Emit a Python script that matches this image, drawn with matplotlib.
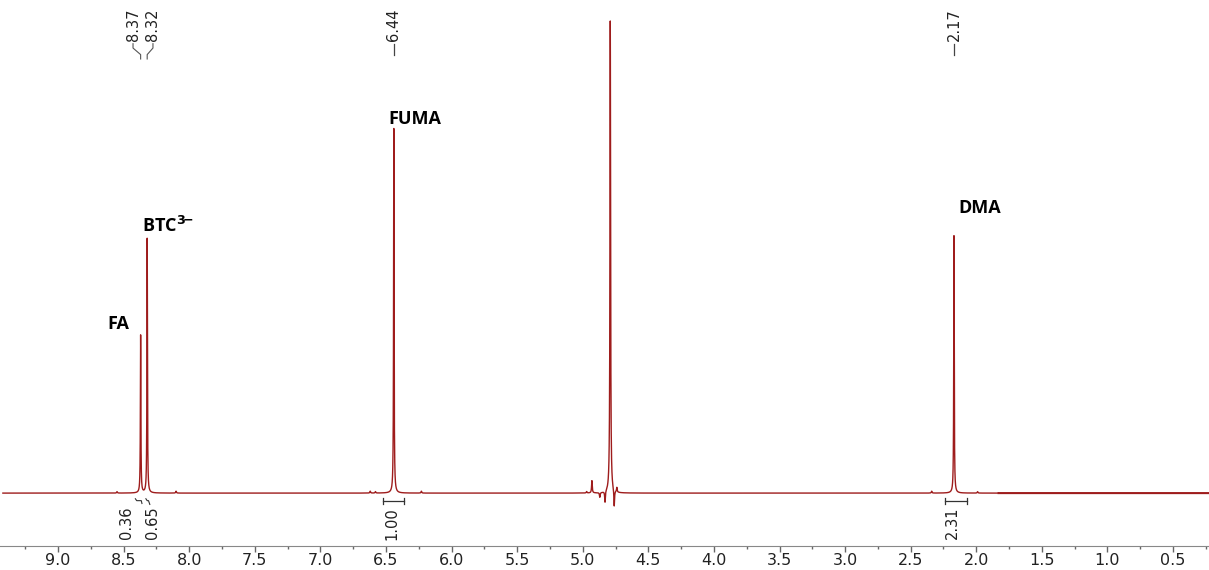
import numpy as np
import matplotlib.pyplot as plt

# peak list (ppm, relative intensity, half width in ppm)
peak_ppm = [8.37, 8.32, 6.44, 4.79, 2.17]
peak_height = [33.4, 53.9, 77.2, 100.0, 54.5]
peak_width = [0.0022, 0.0022, 0.0022, 0.0028, 0.0022]

# small extra signals / phase wiggles around the water line
minor_ppm = [8.55, 8.10, 6.62, 6.58, 6.23, 4.97, 4.93, 4.87, 4.83, 4.76, 4.74, 2.34, 1.99]
minor_height = [0.3, 0.4, 0.4, 0.3, 0.4, 0.3, 2.6, -1.0, -2.4, -3.6, 1.0, 0.4, 0.3]

# shift labels at the top
shift_labels = ["8.37", "8.32", "6.44", "2.17"]
shift_label_ppm = [8.428, 8.276, 6.44, 2.17]
shift_peak_ppm = [8.37, 8.32, 6.44, 2.17]

# integrals below the baseline
integral_values = ["0.36", "0.65", "1.00", "2.31"]
integral_ppm = [8.474, 8.283, 6.454, 2.186]

# compound names
names = ["FA", "BTC$^{\\mathbf{3}\\!\\mathbf{-}}$", "FUMA", "DMA"]
name_ppm = [8.62, 8.36, 6.48, 2.14]
name_y = [33.8, 54.4, 77.4, 58.4]

colour = "#9e1c1c"

x = np.arange(9.42, 0.22, -0.0004)
y = np.zeros_like(x)
for p, h, w in zip(peak_ppm, peak_height, peak_width):
    y += h * w**2 / ((x - p)**2 + w**2)
for p, h in zip(minor_ppm, minor_height):
    w = 0.003
    y += h * w**2 / ((x - p)**2 + w**2)

fig = plt.figure(figsize=(12.09, 5.70), dpi=100)
ax = fig.add_axes([0, 24 / 570, 1, 546 / 570])

thin = x > 1.83
ax.plot(x[thin], y[thin], color=colour, lw=1.0)
ax.plot(x[~thin], y[~thin], color=colour, lw=1.5)

ax.set_xlim(9.442, 0.226)
ax.set_ylim(-11.2, 104.4)

for s in ["top", "left", "right"]:
    ax.spines[s].set_visible(False)
ax.spines["bottom"].set_color("#888888")
ax.set_yticks([])
ax.set_xticks(np.arange(9.0, 0.4, -0.5))
ax.set_xticks(np.arange(9.25, 0.2, -0.5), minor=True)
ax.xaxis.set_major_formatter(plt.FormatStrFormatter("%.1f"))
ax.tick_params(axis="x", which="major", direction="out", length=4, width=1,
               color="#666666", labelsize=11.5, pad=1)
ax.tick_params(axis="x", which="minor", direction="out", length=2.5, width=1,
               color="#666666")
for lab in ax.get_xticklabels():
    lab.set_family("DejaVu Sans")
    lab.set_color("#222222")

narrow = ["Liberation Sans Narrow", "DejaVu Sans"]

# chemical shift labels with connector lines
for lab, lx, px in zip(shift_labels, shift_label_ppm, shift_peak_ppm):
    ax.text(lx, 0.925, lab, transform=ax.get_xaxis_transform(), rotation=90,
            ha="center", va="bottom", fontsize=10.5, family=narrow, color="#222222")
    if abs(lx - px) > 0.01:
        ax.plot([lx, lx, px, px], [0.92, 0.912, 0.9, 0.892],
                transform=ax.get_xaxis_transform(), color="#555555", lw=0.8)
    else:
        ax.plot([lx, lx], [0.92, 0.9], transform=ax.get_xaxis_transform(),
                color="#444444", lw=0.9)

# integral labels and brackets
for val, lx in zip(integral_values, integral_ppm):
    ax.text(lx, -2.9, val, rotation=90, ha="center", va="top",
            fontsize=10.5, family=narrow, color="#222222")
ax.plot([8.41, 8.40, 8.365, 8.36], [-1.2, -1.6, -1.6, -2.2], color="#333333", lw=0.8)
ax.plot([8.33, 8.32, 8.31, 8.30], [-1.2, -1.6, -1.6, -2.4], color="#333333", lw=0.8)
for a, b in [(6.52, 6.36), (2.239, 2.07)]:
    ax.plot([a, b], [-1.7, -1.7], color="#333333", lw=0.9)
    ax.plot([a, a], [-1.0, -2.4], color="#333333", lw=0.9)
    ax.plot([b, b], [-1.0, -2.4], color="#333333", lw=0.9)

# compound names
for nm, nx, ny in zip(names, name_ppm, name_y):
    ax.text(nx, ny, nm, ha="left", va="bottom", fontsize=13,
            family=["Open Sans", "DejaVu Sans"], fontweight="bold", color="black")

fig.savefig("out.png", dpi=100)
